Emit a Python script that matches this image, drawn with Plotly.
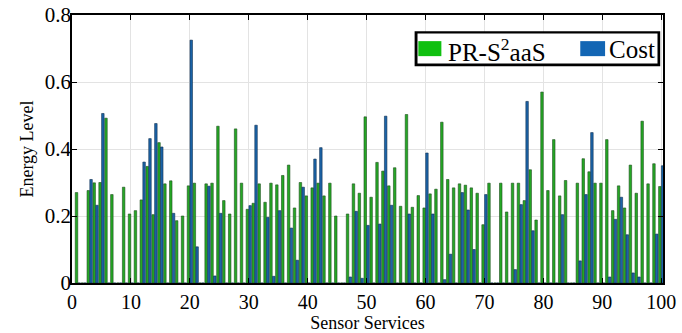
import plotly.graph_objects as go

services = list(range(1, 101))

pr_s2aas = [
    0.27, 0, 0.276, 0.299, 0.30, 0.492, 0.264, 0, 0.286, 0.206,
    0.216, 0.248, 0.348, 0.204, 0.419, 0.296, 0.305, 0.186, 0.20, 0.29,
    0.298, 0, 0.296, 0.298, 0.468, 0.246, 0.206, 0.46, 0.298, 0.22,
    0.238, 0.296, 0.241, 0.298, 0.293, 0.321, 0.352, 0.224, 0.30, 0.26,
    0.284, 0.298, 0.26, 0.298, 0.20, 0, 0.206, 0.296, 0.268, 0.496,
    0.256, 0.36, 0.334, 0.29, 0.344, 0.229, 0.503, 0.226, 0.261, 0.224,
    0.266, 0.28, 0.48, 0.309, 0.284, 0.296, 0.292, 0.284, 0.268, 0.174,
    0.298, 0, 0.298, 0.212, 0.298, 0.298, 0.246, 0.338, 0.188, 0.57,
    0.276, 0.428, 0.26, 0.306, 0, 0.298, 0.371, 0.332, 0.298, 0.298,
    0.428, 0.216, 0.29, 0.224, 0.352, 0.268, 0.483, 0.296, 0.356, 0.288,
]

cost = [
    0, 0, 0.309, 0.232, 0.506, 0, 0, 0, 0, 0,
    0, 0.361, 0.431, 0.476, 0.406, 0, 0.208, 0, 0, 0.725,
    0.108, 0, 0.289, 0.021, 0.208, 0, 0, 0, 0, 0.231,
    0.471, 0, 0.196, 0.02, 0.216, 0, 0.164, 0.068, 0.286, 0,
    0.37, 0.404, 0, 0, 0, 0, 0.018, 0.214, 0.014, 0.172,
    0, 0.176, 0.498, 0.232, 0, 0, 0.206, 0, 0, 0.388,
    0.206, 0, 0.01, 0.086, 0, 0.27, 0.218, 0.10, 0, 0.264,
    0, 0, 0, 0, 0.04, 0.234, 0.542, 0.156, 0, 0,
    0, 0, 0.204, 0, 0, 0.066, 0.264, 0.449, 0, 0,
    0.018, 0.19, 0.256, 0.144, 0.03, 0.018, 0, 0, 0.146, 0.35,
]

series_names = ["PR-S<sup>2</sup>aaS", "Cost"]
series_colors = ["#25A825", "#1B64A8"]
series_edges = ["#1d4d1d", "#0f2f50"]

x_ticks = [0, 10, 20, 30, 40, 50, 60, 70, 80, 90, 100]
y_ticks = [0, 0.2, 0.4, 0.6, 0.8]
y_tick_text = ["0", "0.2", "0.4", "0.6", "0.8"]

FONT = "Liberation Serif"

fig = go.Figure()
for name, vals, col, edge in zip(series_names, [pr_s2aas, cost], series_colors, series_edges):
    fig.add_trace(go.Bar(
        x=services, y=vals, name=name,
        marker=dict(color=col, line=dict(color=edge, width=0.6)),
        showlegend=False,
    ))

# Legend box drawn in paper coordinates (MATLAB-style legend)
box = dict(x0=0.581, x1=0.994, y0=0.812, y1=0.937)
fig.add_shape(type="rect", xref="paper", yref="paper", layer="above",
              x0=box["x0"], x1=box["x1"], y0=box["y0"], y1=box["y1"],
              line=dict(color="black", width=1.5), fillcolor="white")
legend_items = [
    dict(sw=(0.586, 0.625), tx=0.632),
    dict(sw=(0.860, 0.902), tx=0.906),
]
ymid = (box["y0"] + box["y1"]) / 2
for item, name, col in zip(legend_items, series_names, ["#10C010", "#1366B4"]):
    fig.add_shape(type="rect", xref="paper", yref="paper", layer="above",
                  x0=item["sw"][0], x1=item["sw"][1], y0=ymid - 0.028, y1=ymid + 0.028,
                  line=dict(width=0), fillcolor=col)
    fig.add_annotation(xref="paper", yref="paper", x=item["tx"], y=ymid - 0.005,
                       xanchor="left", yanchor="middle", showarrow=False,
                       text=name, font=dict(family=FONT, size=25, color="black"))
# frame of the legend as an annotation border (pixel size of the box)
plot_w, plot_h = 682 - 72 - 19, 333 - 15 - 50
fig.add_annotation(xref="paper", yref="paper",
                   x=(box["x0"] + box["x1"]) / 2, y=ymid,
                   xanchor="center", yanchor="middle", showarrow=False,
                   text=" ", width=(box["x1"] - box["x0"]) * plot_w - 4,
                   height=(box["y1"] - box["y0"]) * plot_h - 4,
                   bordercolor="black", borderwidth=1.5, borderpad=0,
                   bgcolor="rgba(0,0,0,0)", font=dict(size=10))

fig.update_layout(
    width=682, height=333,
    margin=dict(l=72, r=19, t=15, b=50),
    paper_bgcolor="white", plot_bgcolor="white",
    barmode="group", bargap=0.06, bargroupgap=0.1,
    font=dict(family=FONT, color="black"),
    showlegend=False,
)

fig.update_xaxes(
    range=[0, 100.3], tickvals=x_ticks, ticktext=[str(v) for v in x_ticks],
    showgrid=True, gridcolor="#e3e3e3", gridwidth=1,
    showline=True, linecolor="black", linewidth=1.5, mirror="ticks",
    ticks="inside", ticklen=5, tickcolor="black",
    tickfont=dict(family=FONT, size=20), ticklabelstandoff=0,
    title=dict(text="Sensor Services", font=dict(family=FONT, size=18), standoff=0),
    zeroline=False, automargin=False,
)
fig.update_yaxes(
    range=[0, 0.8], tickvals=y_ticks, ticktext=y_tick_text,
    showgrid=True, gridcolor="#e3e3e3", gridwidth=1,
    showline=True, linecolor="black", linewidth=1.5, mirror="ticks",
    ticks="inside", ticklen=5, tickcolor="black",
    tickfont=dict(family=FONT, size=21), ticklabelstandoff=-5,
    title=dict(text="Energy Level", font=dict(family=FONT, size=18), standoff=6),
    zeroline=False, automargin=False,
)

fig.write_html("out.html")
